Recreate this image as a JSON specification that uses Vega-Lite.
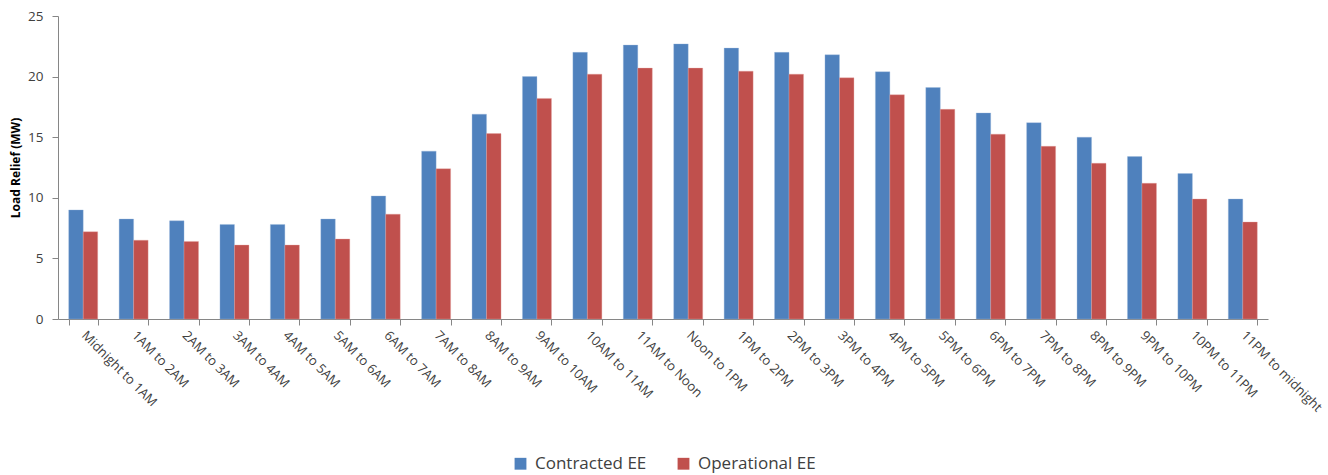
{
  "$schema": "https://vega.github.io/schema/vega-lite/v6.json",
  "width": 1210,
  "height": 303,
  "autosize": "none",
  "padding": {"left": 58, "top": 16, "right": 60, "bottom": 156},
  "background": "white",
  "config": {
    "view": {"stroke": null},
    "font": "Open Sans"
  },
  "data": {
    "values": [
      {"hour": "Midnight to 1AM", "series": "Contracted EE", "value": 9.0},
      {"hour": "Midnight to 1AM", "series": "Operational EE", "value": 7.2},
      {"hour": "1AM to 2AM", "series": "Contracted EE", "value": 8.25},
      {"hour": "1AM to 2AM", "series": "Operational EE", "value": 6.5},
      {"hour": "2AM to 3AM", "series": "Contracted EE", "value": 8.1},
      {"hour": "2AM to 3AM", "series": "Operational EE", "value": 6.4},
      {"hour": "3AM to 4AM", "series": "Contracted EE", "value": 7.8},
      {"hour": "3AM to 4AM", "series": "Operational EE", "value": 6.1},
      {"hour": "4AM to 5AM", "series": "Contracted EE", "value": 7.8},
      {"hour": "4AM to 5AM", "series": "Operational EE", "value": 6.1},
      {"hour": "5AM to 6AM", "series": "Contracted EE", "value": 8.25},
      {"hour": "5AM to 6AM", "series": "Operational EE", "value": 6.6},
      {"hour": "6AM to 7AM", "series": "Contracted EE", "value": 10.15},
      {"hour": "6AM to 7AM", "series": "Operational EE", "value": 8.65},
      {"hour": "7AM to 8AM", "series": "Contracted EE", "value": 13.85},
      {"hour": "7AM to 8AM", "series": "Operational EE", "value": 12.4},
      {"hour": "8AM to 9AM", "series": "Contracted EE", "value": 16.9},
      {"hour": "8AM to 9AM", "series": "Operational EE", "value": 15.3},
      {"hour": "9AM to 10AM", "series": "Contracted EE", "value": 20.0},
      {"hour": "9AM to 10AM", "series": "Operational EE", "value": 18.2},
      {"hour": "10AM to 11AM", "series": "Contracted EE", "value": 22.0},
      {"hour": "10AM to 11AM", "series": "Operational EE", "value": 20.2},
      {"hour": "11AM to Noon", "series": "Contracted EE", "value": 22.6},
      {"hour": "11AM to Noon", "series": "Operational EE", "value": 20.7},
      {"hour": "Noon to 1PM", "series": "Contracted EE", "value": 22.7},
      {"hour": "Noon to 1PM", "series": "Operational EE", "value": 20.7},
      {"hour": "1PM to 2PM", "series": "Contracted EE", "value": 22.35},
      {"hour": "1PM to 2PM", "series": "Operational EE", "value": 20.45},
      {"hour": "2PM to 3PM", "series": "Contracted EE", "value": 22.0},
      {"hour": "2PM to 3PM", "series": "Operational EE", "value": 20.2},
      {"hour": "3PM to 4PM", "series": "Contracted EE", "value": 21.8},
      {"hour": "3PM to 4PM", "series": "Operational EE", "value": 19.9},
      {"hour": "4PM to 5PM", "series": "Contracted EE", "value": 20.4},
      {"hour": "4PM to 5PM", "series": "Operational EE", "value": 18.5},
      {"hour": "5PM to 6PM", "series": "Contracted EE", "value": 19.1},
      {"hour": "5PM to 6PM", "series": "Operational EE", "value": 17.3},
      {"hour": "6PM to 7PM", "series": "Contracted EE", "value": 17.0},
      {"hour": "6PM to 7PM", "series": "Operational EE", "value": 15.25},
      {"hour": "7PM to 8PM", "series": "Contracted EE", "value": 16.2},
      {"hour": "7PM to 8PM", "series": "Operational EE", "value": 14.25},
      {"hour": "8PM to 9PM", "series": "Contracted EE", "value": 15.0},
      {"hour": "8PM to 9PM", "series": "Operational EE", "value": 12.85},
      {"hour": "9PM to 10PM", "series": "Contracted EE", "value": 13.4},
      {"hour": "9PM to 10PM", "series": "Operational EE", "value": 11.2},
      {"hour": "10PM to 11PM", "series": "Contracted EE", "value": 12.0},
      {"hour": "10PM to 11PM", "series": "Operational EE", "value": 9.9},
      {"hour": "11PM to midnight", "series": "Contracted EE", "value": 9.9},
      {"hour": "11PM to midnight", "series": "Operational EE", "value": 8.0}
    ]
  },
  "mark": {"type": "bar", "strokeWidth": 1, "strokeOpacity": 0.35},
  "encoding": {
    "x": {
      "field": "hour",
      "type": "nominal",
      "sort": null,
      "scale": {"paddingInner": 0.425, "paddingOuter": 0.2125},
      "axis": {
        "title": null,
        "labelAngle": 45,
        "labelAlign": "left",
        "labelBaseline": "middle",
        "labelFontSize": 13,
        "labelColor": "#404040",
        "labelPadding": 8,
        "tickBand": "extent",
        "tickSize": 6,
        "tickColor": "#868686",
        "domainColor": "#868686",
        "labelOverlap": false
      }
    },
    "xOffset": {"field": "series", "type": "nominal", "sort": ["Contracted EE", "Operational EE"], "scale": {"paddingInner": 0, "paddingOuter": 0}},
    "y": {
      "field": "value",
      "type": "quantitative",
      "scale": {"domain": [0, 25], "nice": false},
      "axis": {
        "title": "Load Relief (MW)",
        "titleFontSize": 12,
        "titleFontWeight": "bold",
        "titleColor": "#000000",
        "titlePadding": 5,
        "values": [0, 5, 10, 15, 20, 25],
        "grid": false,
        "labelFontSize": 13.5,
        "labelColor": "#404040",
        "labelPadding": 9,
        "tickSize": 6,
        "tickColor": "#868686",
        "domainColor": "#868686"
      }
    },
    "color": {
      "field": "series",
      "type": "nominal",
      "scale": {"domain": ["Contracted EE", "Operational EE"], "range": ["#4F81BD", "#C0504D"]},
      "legend": {
        "title": null,
        "orient": "none",
        "direction": "horizontal",
        "legendX": 454,
        "legendY": 439,
        "symbolType": "square",
        "symbolSize": 140,
        "symbolStrokeWidth": 0,
        "labelFontSize": 17,
        "labelColor": "#404040",
        "columnPadding": 28,
        "labelOffset": 6
      }
    },
    "stroke": {
      "field": "series",
      "type": "nominal",
      "scale": {"domain": ["Contracted EE", "Operational EE"], "range": ["#9DB9DD", "#E4A3A1"]},
      "legend": null
    }
  }
}
